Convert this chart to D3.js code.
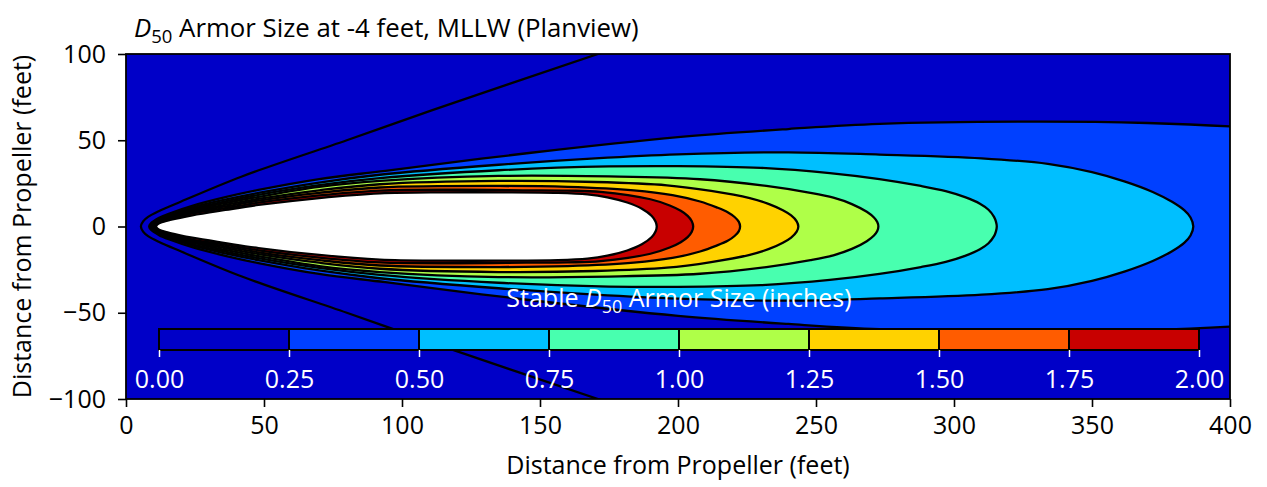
<!DOCTYPE html>
<html>
<head>
<meta charset="utf-8">
<script src="https://cdn.jsdelivr.net/npm/d3@7"></script>
<style>
  body { margin: 0; background: #fff; }
  svg text { font-family: "Open Sans", "Noto Sans", sans-serif; }
</style>
</head>
<body>
<svg id="chart" width="1267" height="487"></svg>
<script>
// contour levels (inches) and band colours
var levels = [0, 0.25, 0.5, 0.75, 1.0, 1.25, 1.5, 1.75, 2.0];
var bandColors = ["#0000c8", "#0040ff", "#00bfff", "#48ffaf", "#afff48", "#ffd200", "#ff5c00", "#c80000"];
var xTicks = [0, 50, 100, 150, 200, 250, 300, 350, 400];
var yTicks = [-100, -50, 0, 50, 100];

// upper half of each contour: [distance downstream (ft), half width (ft)]
var wedge = [[5.4, 0], [6.2, 3], [8, 5.6], [12, 9], [20, 14.5], [42, 29], [80, 50], [111, 67.5], [171, 100], [190, 110]];
var c025 = [[8.4, 0], [8.9, 1.6], [12, 5], [16, 7.7], [24, 12], [36, 17], [48, 21.2], [70, 27.5], [94, 32.3], [146, 42.6], [200, 51.8], [240, 56.5], [273, 59.5], [330, 60.8], [370, 60], [400, 58], [425, 55], [450, 42], [465, 0]];
var c050 = [[8.7, 0], [9.2, 1.5], [12, 4.2], [16, 6.8], [24, 11], [36, 15.6], [48, 19.5], [70, 25.5], [92, 30], [135, 35.8], [170, 39.5], [200, 41.8], [240, 43], [273, 41.7], [310, 39.5], [334, 36.3], [350, 31.5], [362, 26], [372, 20], [379, 14.3], [383.5, 9.3], [385.7, 5.2], [386.7, 0]];
var c075 = [[9.0, 0], [9.5, 1.4], [12, 3.8], [16, 6.2], [24, 10.2], [36, 14.6], [48, 18.4], [70, 24], [92, 28], [135, 32.6], [175, 34.8], [200, 35], [230, 34], [255, 31], [273, 27.5], [288, 23.5], [297, 20.5], [304, 17], [309.4, 13.2], [312.5, 9.7], [314.5, 5.6], [315.2, 2.8], [315.5, 0]];
var c100 = [[9.4, 0], [9.9, 1.3], [12, 3.4], [16, 5.6], [24, 9.4], [36, 13.6], [48, 17.2], [70, 23], [92, 26.4], [135, 29.3], [175, 29], [208, 27.4], [232, 23.5], [248, 19.5], [256.3, 16.7], [263, 13], [268.4, 8.5], [271, 5.2], [272.2, 2.6], [272.6, 0]];
var c125 = [[9.8, 0], [10.3, 1.2], [12, 3.1], [16, 5.1], [24, 8.8], [36, 12.6], [48, 16], [70, 21], [92, 24.5], [135, 26.4], [170, 25.8], [196, 23.9], [212, 20.6], [226, 16.4], [233, 13], [238, 9.4], [241, 6.4], [243, 3], [243.6, 0]];
var c150 = [[10.1, 0], [10.6, 1.2], [12, 2.8], [16, 4.7], [24, 8.2], [36, 11.6], [48, 15], [70, 19.5], [92, 22.6], [135, 23.5], [160, 23], [184, 21], [198, 18.2], [208, 14.5], [214, 11.1], [218, 8.3], [220.5, 5.5], [222, 2.8], [222.5, 0]];
var c175 = [[10.5, 0], [11, 1.2], [12, 2.4], [16, 4.2], [24, 7.6], [36, 10.6], [48, 13.8], [70, 18], [92, 20.8], [120, 21.3], [145, 21], [160, 20.8], [172, 20.1], [190, 15.8], [197, 12.2], [201, 9.1], [203.5, 6.2], [205, 3.1], [205.5, 0]];
var c200 = [[10.9, 0], [11.4, 1.2], [12.5, 2.2], [16, 3.8], [24, 6.5], [36, 9.6], [48, 12.5], [70, 16.5], [92, 19.2], [115, 19.8], [135, 19.8], [156.5, 19.5], [167.2, 18.6], [174.4, 16.9], [181.6, 13.9], [186.9, 10.3], [190.5, 6.1], [191.9, 2.75], [192.3, 0]];
var contours = [c025, c050, c075, c100, c125, c150, c175, c200];
var contourFills = ["#0040ff", "#00bfff", "#48ffaf", "#afff48", "#ffd200", "#ff5c00", "#c80000", "#ffffff"];

var svg = d3.select("#chart");
var margin = {left: 126, right: 37, top: 54, bottom: 88};
var W = 1267, H = 487;
var fs = 25;

var x = d3.scaleLinear().domain([0, 400]).range([margin.left, W - margin.right]);
var y = d3.scaleLinear().domain([-100, 100]).range([H - margin.bottom, margin.top]);

svg.append("clipPath").attr("id", "plotclip")
  .append("rect")
  .attr("x", x(0)).attr("y", y(100))
  .attr("width", x(400) - x(0)).attr("height", y(-100) - y(100));

var plot = svg.append("g").attr("clip-path", "url(#plotclip)");

// background band (0 - 0.25)
plot.append("rect")
  .attr("x", x(0)).attr("y", y(100))
  .attr("width", x(400) - x(0)).attr("height", y(-100) - y(100))
  .attr("fill", bandColors[0]);

function closedShape(half) {
  var pts = half.map(function(d) { return [d[0], d[1]]; });
  var lower = half.slice(1, -1).reverse().map(function(d) { return [d[0], -d[1]]; });
  return pts.concat(lower);
}

var shapeLine = d3.line()
  .x(function(d) { return x(d[0]); })
  .y(function(d) { return y(d[1]); })
  .curve(d3.curveCatmullRomClosed.alpha(0.5));

var openLine = d3.line()
  .x(function(d) { return x(d[0]); })
  .y(function(d) { return y(d[1]); })
  .curve(d3.curveCatmullRom.alpha(0.5));

plot.selectAll("path.fill").data(contours).enter().append("path")
  .attr("class", "fill")
  .attr("d", function(d) { return shapeLine(closedShape(d)); })
  .attr("fill", function(d, i) { return contourFills[i]; })
  .attr("stroke", "none");

plot.selectAll("path.edge").data(contours).enter().append("path")
  .attr("class", "edge")
  .attr("d", function(d) { return shapeLine(closedShape(d)); })
  .attr("fill", "none")
  .attr("stroke", "#000")
  .attr("stroke-width", 2.3);

// zero contour (wedge)
var wedgePath = wedge.slice(1).reverse().map(function(d) { return [d[0], -d[1]]; }).concat(wedge);
plot.append("path")
  .attr("d", openLine(wedgePath))
  .attr("fill", "none")
  .attr("stroke", "#000")
  .attr("stroke-width", 2.3);

// colorbar inset
var cb = d3.scaleLinear().domain([0, 2]).range([159, 1199]);
var cbTop = 329, cbH = 21;
var cbg = svg.append("g");
cbg.selectAll("rect").data(bandColors).enter().append("rect")
  .attr("x", function(d, i) { return cb(levels[i]); })
  .attr("y", cbTop)
  .attr("width", function(d, i) { return cb(levels[i + 1]) - cb(levels[i]); })
  .attr("height", cbH)
  .attr("fill", function(d) { return d; })
  .attr("stroke", "#000")
  .attr("stroke-width", 2);

var cbAxis = cbg.append("g")
  .attr("transform", "translate(0," + (cbTop + cbH) + ")")
  .call(d3.axisBottom(cb).tickValues(levels).tickFormat(d3.format(".2f")).tickSize(7).tickSizeOuter(0).tickPadding(13));
cbAxis.select(".domain").remove();
cbAxis.selectAll("line").attr("stroke", "#fff").attr("stroke-width", 1.5);
cbAxis.selectAll("text").attr("fill", "#fff").attr("font-size", fs);

var cbLabel = svg.append("text")
  .attr("x", (cb(0) + cb(2)) / 2).attr("y", 307)
  .attr("text-anchor", "middle").attr("fill", "#fff").attr("font-size", fs);
cbLabel.append("tspan").text("Stable ");
cbLabel.append("tspan").attr("font-style", "italic").text("D");
cbLabel.append("tspan").attr("dy", 6).attr("font-size", 18).text("50");
cbLabel.append("tspan").attr("dy", -6).text(" Armor Size (inches)");

// axes
var xAxis = svg.append("g")
  .attr("transform", "translate(0," + y(-100) + ")")
  .call(d3.axisBottom(x).tickValues(xTicks).tickSize(8).tickPadding(9));
var yAxis = svg.append("g")
  .attr("transform", "translate(" + x(0) + ",0)")
  .call(d3.axisLeft(y).tickValues(yTicks).tickSize(8).tickPadding(12));
[xAxis, yAxis].forEach(function(a) {
  a.selectAll("text").attr("font-size", fs).attr("fill", "#000");
  a.selectAll("line").attr("stroke", "#000").attr("stroke-width", 1.6);
  a.select(".domain").remove();
});

// frame
svg.append("rect")
  .attr("x", x(0)).attr("y", y(100))
  .attr("width", x(400) - x(0)).attr("height", y(-100) - y(100))
  .attr("fill", "none").attr("stroke", "#000").attr("stroke-width", 1.8);

svg.append("text")
  .attr("x", (x(0) + x(400)) / 2).attr("y", 474)
  .attr("text-anchor", "middle").attr("font-size", fs)
  .text("Distance from Propeller (feet)");

svg.append("text")
  .attr("transform", "translate(31," + ((y(100) + y(-100)) / 2) + ") rotate(-90)")
  .attr("text-anchor", "middle").attr("font-size", fs)
  .text("Distance from Propeller (feet)");

var title = svg.append("text").attr("x", 134).attr("y", 37).attr("font-size", 25.8);
title.append("tspan").attr("font-style", "italic").text("D");
title.append("tspan").attr("dy", 6).attr("font-size", 18.5).text("50");
title.append("tspan").attr("dy", -6).text(" Armor Size at -4 feet, MLLW (Planview)");
</script>
</body>
</html>
